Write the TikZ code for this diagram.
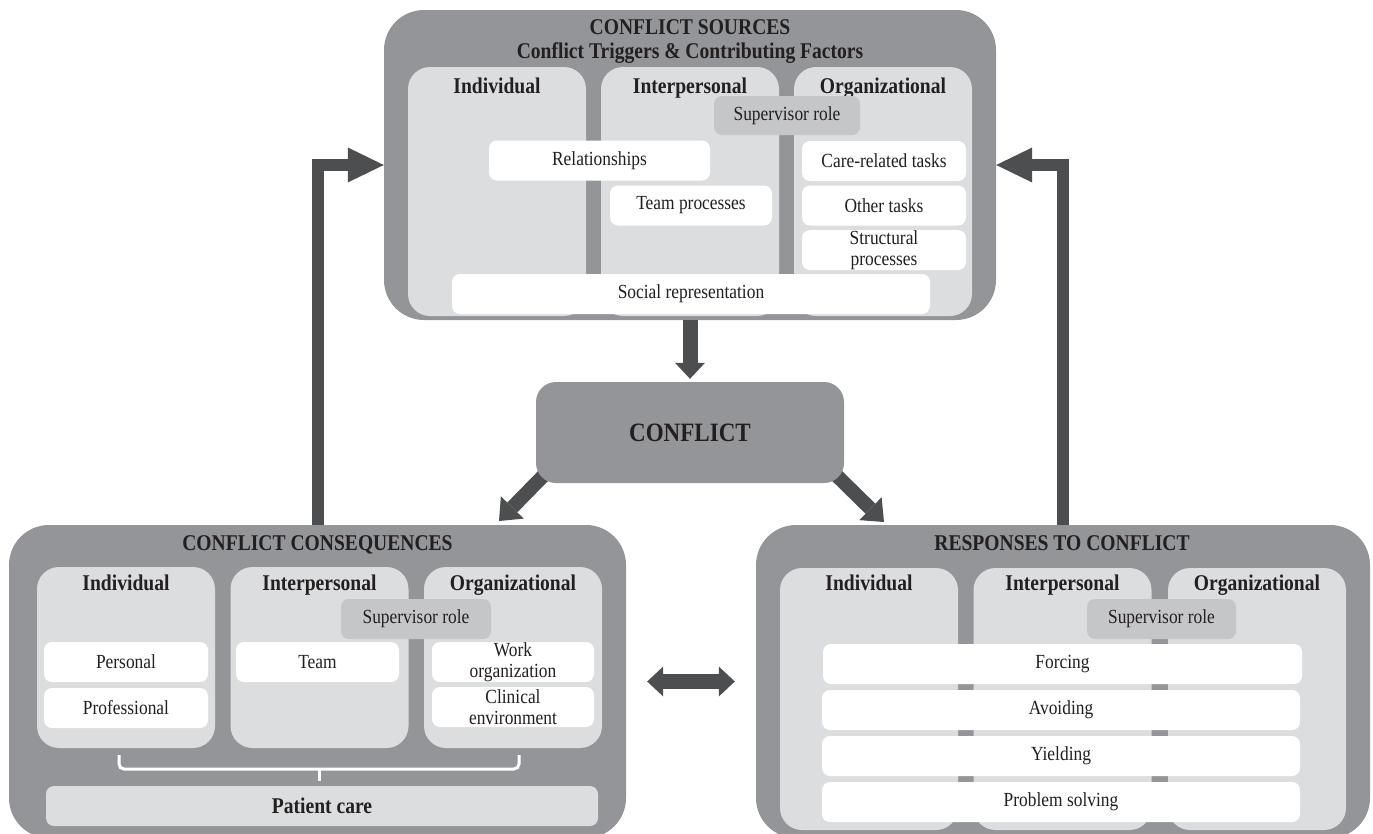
\documentclass[tikz,border=0pt]{standalone}
\usepackage{fontspec}
\setmainfont{Liberation Serif}[FakeStretch=0.87]
\usetikzlibrary{arrows.meta,calc,backgrounds}
\definecolor{outergray}{HTML}{939598}
\definecolor{colgray}{HTML}{DCDDDF}
\definecolor{supgray}{HTML}{C5C6C8}
\definecolor{arrowgray}{HTML}{4D4E50}
\definecolor{textdark}{HTML}{231F20}
\begin{document}
\begin{tikzpicture}[x=1pt,y=-1pt,
    box node/.style={rectangle,inner sep=0pt,text=textdark},
    outer node/.style={box node,fill=outergray,rounded corners=40pt},
    col node/.style={box node,fill=colgray,rounded corners=22pt,minimum width=178pt},
    item node/.style={box node,fill=white,rounded corners=8pt,minimum height=40pt,align=center,font={\fontsize{20}{21}\selectfont}},
    sup node/.style={item node,fill=supgray},
    head node/.style={text=textdark,inner sep=0pt,anchor=base,font={\fontsize{22.5}{24}\selectfont\bfseries}},
    big arrow/.style={draw=arrowgray,line width=12pt,line join=miter,-{Triangle[width=35pt,length=36pt,line width=0pt]}},
    short arrow/.style={draw=arrowgray,line width=14pt,-{Triangle[width=32pt,length=19pt,line width=0pt]}},
    both arrow/.style={draw=arrowgray,line width=15pt,{Triangle[width=30pt,length=16pt,line width=0pt]}-{Triangle[width=30pt,length=16pt,line width=0pt]}}]
    \useasboundingbox (0,0) rectangle (1373,833);
    \clip (0,0) rectangle (1373,833);

    % conflict sources
    \node[outer node,minimum width=612pt,minimum height=310pt] (srcbox) at (690,165) {};
    \node[head node] (srctitle) at (690,34.5) {CONFLICT SOURCES};
    \node[head node] (srcsub) at (690,58) {Conflict Triggers \& Contributing Factors};
    \node[col node,minimum height=249pt] (s-ind) at (497,191.5) {};
    \node[col node,minimum height=249pt] (s-int) at (690,191.5) {};
    \node[col node,minimum height=249pt] (s-org) at (883,191.5) {};
    \node[head node] (s-ind-h) at (497,93.5) {Individual};
    \node[head node] (s-int-h) at (690,93.5) {Interpersonal};
    \node[head node] (s-org-h) at (883,93.5) {Organizational};
    \node[sup node,minimum width=146pt,minimum height=39pt] (s-sup) at (787,115.5) {Supervisor role};
    \node[item node,minimum width=221pt] (s-rel) at (599.5,160.5) {Relationships};
    \node[item node,minimum width=162pt] (s-team) at (691,205.5) {Team processes};
    \node[item node,minimum width=164pt] (s-care) at (884,161) {Care-related tasks};
    \node[item node,minimum width=164pt] (s-other) at (884,205.5) {Other tasks};
    \node[item node,minimum width=164pt] (s-struct) at (884,250) {Structural\\processes};
    \node[item node,minimum width=478pt] (s-social) at (691,294) {Social representation};

    % conflict
    \node[box node,fill=outergray,rounded corners=20pt,minimum width=308pt,minimum height=101pt,font={\fontsize{26.5}{28}\selectfont\bfseries}] (conflict) at (690,432.5) {CONFLICT};

    % conflict consequences
    \node[outer node,minimum width=617pt,minimum height=313pt] (conbox) at (317.5,681.5) {};
    \node[head node] (contitle) at (317.5,550.5) {CONFLICT CONSEQUENCES};
    \node[col node,minimum height=181pt] (c-ind) at (126,657.5) {};
    \node[col node,minimum height=181pt] (c-int) at (319.5,657.5) {};
    \node[col node,minimum height=181pt] (c-org) at (513,657.5) {};
    \node[head node] (c-ind-h) at (126,590.5) {Individual};
    \node[head node] (c-int-h) at (319.5,590.5) {Interpersonal};
    \node[head node] (c-org-h) at (513,590.5) {Organizational};
    \node[sup node,minimum width=150pt] (c-sup) at (416,619) {Supervisor role};
    \node[item node,minimum width=164pt] (c-pers) at (126,662) {Personal};
    \node[item node,minimum width=164pt] (c-prof) at (126,708) {Professional};
    \node[item node,minimum width=163pt] (c-team) at (317.5,662) {Team};
    \node[item node,minimum width=162pt] (c-work) at (513,662) {Work\\organization};
    \node[item node,minimum width=162pt] (c-clin) at (513,707) {Clinical\\environment};
    \draw[white,line width=3pt,rounded corners=5pt] (119,755) -- (119,769) -- (519,769) -- (519,755);
    \draw[white,line width=3pt] (319,769) -- (319,781);
    \node[item node,fill=colgray,minimum width=552pt,font={\fontsize{22.5}{24}\selectfont\bfseries}] (c-patient) at (322,806) {Patient care};

    % responses to conflict
    \node[outer node,minimum width=614pt,minimum height=313pt] (resbox) at (1063,681.5) {};
    \node[head node] (restitle) at (1062,550.5) {RESPONSES TO CONFLICT};
    \node[col node,minimum height=262pt] (r-ind) at (869,699) {};
    \node[col node,minimum height=262pt] (r-int) at (1062.5,699) {};
    \node[col node,minimum height=262pt] (r-org) at (1257,699) {};
    \node[head node] (r-ind-h) at (869,590.5) {Individual};
    \node[head node] (r-int-h) at (1062.5,590.5) {Interpersonal};
    \node[head node] (r-org-h) at (1257,590.5) {Organizational};
    \node[sup node,minimum width=149pt] (r-sup) at (1161.5,619) {Supervisor role};
    \node[item node,minimum width=479pt] (r-force) at (1062.5,664) {Forcing};
    \node[item node,minimum width=478pt] (r-avoid) at (1061,710) {Avoiding};
    \node[item node,minimum width=478pt] (r-yield) at (1061,756) {Yielding};
    \node[item node,minimum width=478pt] (r-prob) at (1061,802) {Problem solving};

    % arrows
    \coordinate (toleft) at (499,521);
    \coordinate (toright) at (884,522);
    \begin{scope}[on background layer]
        \draw[short arrow] ($(conflict.south west)+(12,-12)$) -- (toleft);
        \draw[short arrow] ($(conflict.south east)+(-12,-12)$) -- (toright);
    \end{scope}
    \draw[short arrow,line width=15pt,-{Triangle[width=30pt,length=16pt,line width=0pt]}] (srcbox.south) -- ($(conflict.north)+(0,-3)$);
    \draw[big arrow] (conbox.north) |- (srcbox.west);
    \draw[big arrow] (resbox.north) |- (srcbox.east);
    \draw[both arrow,shorten <=21pt,shorten >=21pt] (conbox.east) -- (resbox.west);
\end{tikzpicture}
\end{document}
